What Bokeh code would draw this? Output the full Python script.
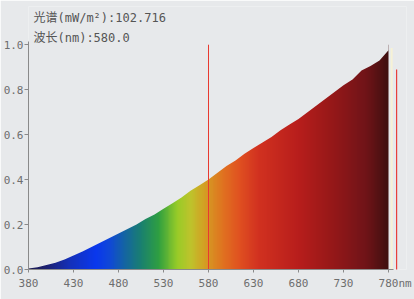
import numpy as np
from bokeh.plotting import figure
from bokeh.models import FixedTicker, PrintfTickFormatter, Label
from bokeh.embed import file_html
from bokeh.resources import INLINE

# ---- data ----
wavelength = [380, 390, 400, 410, 420, 430, 440, 450, 460, 470, 480, 490, 500,
              510, 520, 530, 540, 550, 560, 570, 580, 590, 600, 610, 620, 630,
              640, 650, 660, 670, 680, 690, 700, 710, 720, 730, 740, 750, 760,
              770, 780]
intensity = [0.005, 0.01, 0.02, 0.03, 0.045, 0.062, 0.08, 0.10, 0.12, 0.14, 0.16,
             0.18, 0.20, 0.225, 0.245, 0.27, 0.295, 0.32, 0.35, 0.375, 0.40, 0.43,
             0.46, 0.485, 0.515, 0.54, 0.565, 0.59, 0.62, 0.645, 0.67, 0.70, 0.73,
             0.76, 0.79, 0.82, 0.845, 0.885, 0.905, 0.93, 0.975]
x_ticks = [380, 430, 480, 530, 580, 630, 680, 730, 780]
x_unit = "nm"
y_ticks = [0.0, 0.2, 0.4, 0.6, 0.8, 1.0]
marker_nm = 580.0
power_value = 102.716
title_power = "光谱(mW/m²):" + f"{power_value:.3f}"
title_wave = "波长(nm):" + f"{marker_nm:.1f}"

# ---- style: spectrum colour stops (wavelength -> colour) ----
stop_nm = [380, 400, 425, 455, 470, 485, 505, 525, 545, 560, 575, 595, 615,
           635, 680, 720, 755, 780]
stop_col = ["#1c1c50", "#1c2070", "#1530b8", "#0a38ee", "#1048d8", "#1462a8",
            "#1a8070", "#30a040", "#98cc28", "#bec42c", "#d4a024", "#e07420",
            "#e05020", "#d23220", "#b81e1c", "#941818", "#701418", "#3e1010"]

BG = "#e7e9eb"


def hex2rgb(h):
    return [int(h[i:i + 2], 16) for i in (1, 3, 5)]


cols = np.array([hex2rgb(c) for c in stop_col], dtype=float)
nm_px = np.arange(wavelength[0], wavelength[-1]) + 0.5
r = np.interp(nm_px, stop_nm, cols[:, 0])
g = np.interp(nm_px, stop_nm, cols[:, 1])
b = np.interp(nm_px, stop_nm, cols[:, 2])
img = np.empty((1, len(nm_px)), dtype=np.uint32)
view = img.view(dtype=np.uint8).reshape((1, len(nm_px), 4))
view[0, :, 0] = r.astype(np.uint8)
view[0, :, 1] = g.astype(np.uint8)
view[0, :, 2] = b.astype(np.uint8)
view[0, :, 3] = 255

p = figure(width=414, height=299, x_range=(380, 800), y_range=(0, 1.17),
           output_backend="svg", toolbar_location=None,
           min_border_left=28, min_border_right=8,
           min_border_top=6, min_border_bottom=30)
p.background_fill_color = BG
p.border_fill_color = BG
p.outline_line_color = None
p.grid.visible = False

top = max(y_ticks)
# spectrum gradient, then mask above the curve
p.image_rgba(image=[img], x=wavelength[0], y=0,
             dw=wavelength[-1] - wavelength[0], dh=top)
p.varea(x=wavelength, y1=intensity, y2=[top + 0.03] * len(wavelength),
        fill_color=BG)

# marker line at selected wavelength
p.segment(x0=[marker_nm], y0=[0], x1=[marker_nm], y1=[top],
          line_color="#e83a30", line_width=1)

# right-hand screen edge decorations
edge = wavelength[-1]
p.segment(x0=[edge + 3.5], y0=[-0.01], x1=[edge + 3.5], y1=[0.985],
          line_color="#f6f2d6", line_width=2)
p.segment(x0=[edge + 9], y0=[-0.01], x1=[edge + 9], y1=[0.89],
          line_color="#e8403a", line_width=1.2)

mono = "DejaVu Sans Mono, Noto Sans CJK SC"
tick_col = "#6e6e6e"

xa = p.xaxis[0]
xa.ticker = FixedTicker(ticks=x_ticks)
xa.bounds = (380, 785)
xa.axis_line_color = "#8a8a8a"
xa.major_tick_line_color = "#8a8a8a"
xa.major_tick_out = 3
xa.major_tick_in = 0
xa.minor_tick_line_color = None
xa.major_label_standoff = 4
xa.major_label_text_font = mono
xa.major_label_text_font_size = "11px"
xa.major_label_text_color = tick_col
xa.major_label_overrides = {x_ticks[-1]: "\u00a0\u00a0" + str(x_ticks[-1]) + x_unit}

ya = p.yaxis[0]
ya.ticker = FixedTicker(ticks=y_ticks)
ya.formatter = PrintfTickFormatter(format="%.1f")
ya.bounds = (0, 1.015)
ya.axis_line_color = "#8a8a8a"
ya.major_tick_line_color = "#8a8a8a"
ya.major_tick_out = 4
ya.major_tick_in = 0
ya.minor_tick_line_color = None
ya.major_label_standoff = 1
ya.major_label_text_font = mono
ya.major_label_text_font_size = "11px"
ya.major_label_text_color = tick_col

p.add_layout(Label(x=5, y=252, x_units="screen", y_units="screen",
                   text=title_power, text_font=mono, text_font_size="12px",
                   text_color="#555555", text_baseline="middle"))
p.add_layout(Label(x=5, y=232, x_units="screen", y_units="screen",
                   text=title_wave, text_font=mono, text_font_size="12px",
                   text_color="#555555", text_baseline="middle"))

open("out.html", "w").write(file_html(p, INLINE))
